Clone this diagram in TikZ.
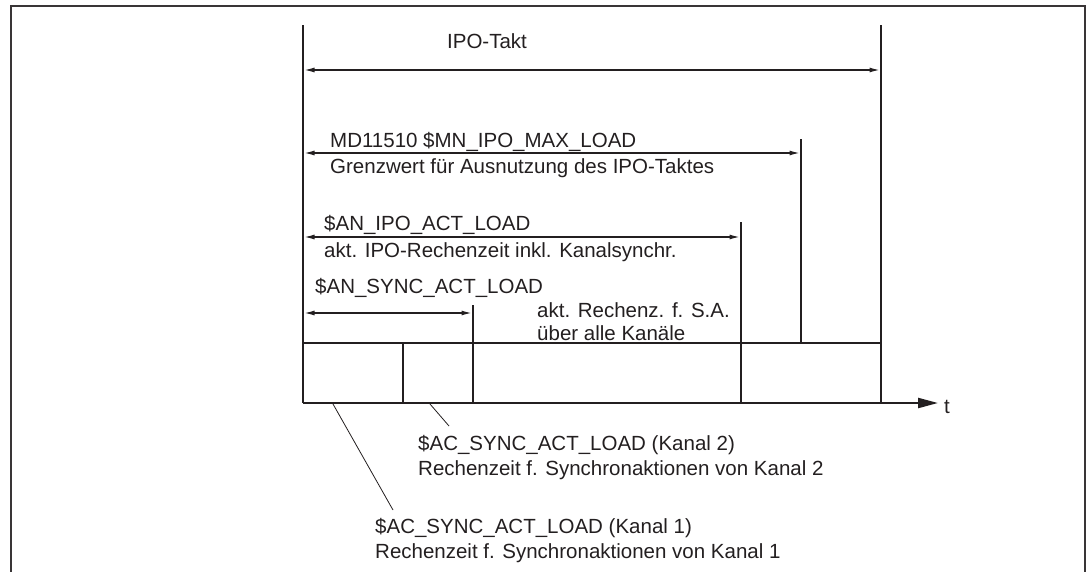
\documentclass[tikz,border=0pt]{standalone}
\usepackage{fontspec}
\setmainfont{Liberation Sans}
\usetikzlibrary{arrows.meta}
\definecolor{ink}{HTML}{231F20}
\begin{document}
\begin{tikzpicture}[x=1pt,y=-1pt,
  thick line/.style={line width=2.2pt, draw=ink},
  dimarrow/.style={line width=1.2pt, draw=ink,
    {Latex[length=10pt,width=5pt]}-{Latex[length=10pt,width=5pt]}},
  leader/.style={line width=0.8pt, draw=ink},
  lbl/.style={anchor=base west, inner sep=0pt, text=ink,
    font=\fontsize{20.5}{24}\selectfont}]
\useasboundingbox (0,0) rectangle (1088,571);

% outer frame (open at the bottom)
\draw[line width=2pt, draw=ink!90] (11,580) -- (11,6) -- (1085,6) -- (1085,580);

% cycle boundaries
\coordinate (Ltop) at (303,25);
\coordinate (Lbot) at (303,403);
\coordinate (Rtop) at (881,25);
\coordinate (Rbot) at (881,403);
\draw[thick line] (Ltop) -- (Lbot);
\draw[thick line] (Rtop) -- (Rbot);

% load markers
\coordinate (MDtop) at (801,139);  \coordinate (MDbot) at (801,343);
\coordinate (ACTtop) at (741,222); \coordinate (ACTbot) at (741,403);
\coordinate (SYtop) at (473,305);  \coordinate (SYbot) at (473,403);
\coordinate (Ch2top) at (403,343); \coordinate (Ch2bot) at (403,403);
\draw[thick line] (MDtop) -- (MDbot);
\draw[thick line] (ACTtop) -- (ACTbot);
\draw[thick line] (SYtop) -- (SYbot);
\draw[thick line] (Ch2top) -- (Ch2bot);

% time bar and axis
\coordinate (BarL) at (303,343); \coordinate (BarR) at (881,343);
\draw[thick line] (BarL) -- (BarR);
\coordinate (AxEnd) at (938,403);
\draw[thick line, -{Triangle[length=20pt,width=10pt]}] (Lbot) -- (AxEnd);
\node[lbl] (t) at (944,413) {t};

% dimension arrows
\coordinate (A1) at (304.5,70);  \coordinate (B1) at (879.5,70);
\coordinate (A2) at (304.5,153); \coordinate (B2) at (799.5,153);
\coordinate (A3) at (304.5,237); \coordinate (B3) at (739.5,237);
\coordinate (A4) at (304.5,313); \coordinate (B4) at (471.5,313);
\draw[dimarrow] (A1) -- (B1);
\draw[dimarrow] (A2) -- (B2);
\draw[dimarrow] (A3) -- (B3);
\draw[dimarrow] (A4) -- (B4);

% labels
\node[lbl, anchor=base] (ipo) at (487,48) {IPO-Takt};
\node[lbl] (md) at (330,147) {MD11510 \$MN\_IPO\_MAX\_LOAD};
\node[lbl] (mdtxt) at (330,173) {Grenzwert für Ausnutzung des IPO-Taktes};
\node[lbl] (act) at (324,230) {\$AN\_IPO\_ACT\_LOAD};
\node[lbl] (acttxt) at (324,257) {akt. IPO-Rechenzeit inkl. Kanalsynchr.};
\node[lbl] (sync) at (315,293) {\$AN\_SYNC\_ACT\_LOAD};
\node[lbl] (synctxt) at (537,317) {akt. Rechenz. f. S.A.};
\node[lbl] (synctxtb) at (537,340) {über alle Kanäle};

% channel annotations
\node[lbl] (ch2) at (418,450) {\$AC\_SYNC\_ACT\_LOAD (Kanal 2)};
\node[lbl] (ch2txt) at (418,475) {Rechenzeit f. Synchronaktionen von Kanal 2};
\node[lbl] (ch1) at (375,533) {\$AC\_SYNC\_ACT\_LOAD (Kanal 1)};
\node[lbl] (ch1txt) at (375,558) {Rechenzeit f. Synchronaktionen von Kanal 1};

\coordinate (P1) at (333,404); \coordinate (Q1) at (393,510);
\coordinate (P2) at (430,404); \coordinate (Q2) at (449,426);
\draw[leader] (P1) -- (Q1);
\draw[leader] (P2) -- (Q2);
\end{tikzpicture}
\end{document}
